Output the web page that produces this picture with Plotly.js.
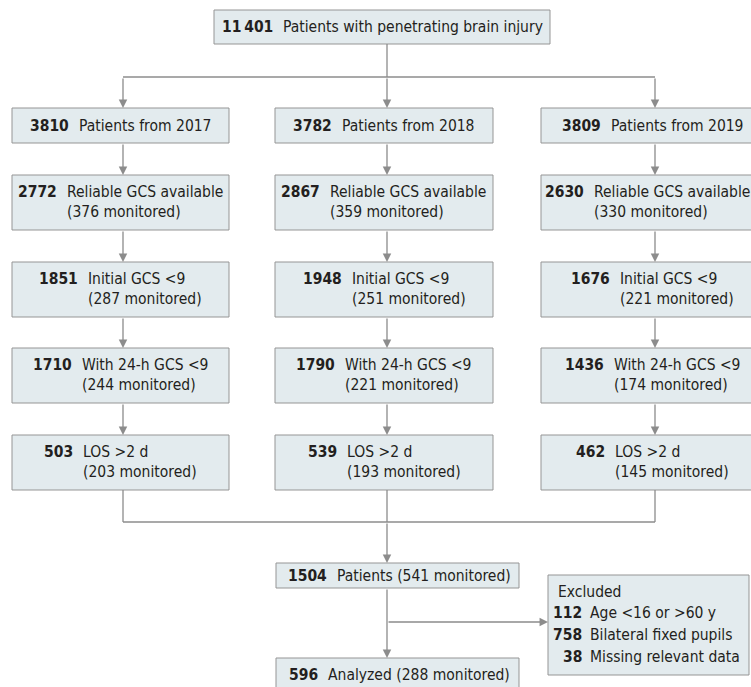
<!DOCTYPE html>
<html><head><meta charset="utf-8">
<script src="https://cdn.plot.ly/plotly-3.0.1.min.js"></script>
<style>html,body{margin:0;padding:0;background:#fff}#chart{width:751px;height:687px}</style>
</head><body><div id="chart"></div>
<script>
// ---- data ----
const totalCount = "11\u2009401";
const totalLabel = "Patients with penetrating brain injury";
const years = ["2017", "2018", "2019"];
const yearPatients = [3810, 3782, 3809];
const stepLabels = ["Reliable GCS available", "Initial GCS <9", "With 24-h GCS <9", "LOS >2 d"];
const reliableGCS = [2772, 2867, 2630];
const reliableMon = [376, 359, 330];
const initialGCS = [1851, 1948, 1676];
const initialMon = [287, 251, 221];
const gcs24 = [1710, 1790, 1436];
const gcs24Mon = [244, 221, 174];
const losCount = [503, 539, 462];
const losMon = [203, 193, 145];
const pooledCount = 1504, pooledMon = 541;
const analyzedCount = 596, analyzedMon = 288;
const excludedTitle = "Excluded";
const excludedCounts = [112, 758, 38];
const excludedLabels = ["Age <16 or >60 y", "Bilateral fixed pupils", "Missing relevant data"];

// ---- styling / layout helpers ----
const FONT = "'DejaVu Sans Condensed', 'Liberation Sans Narrow', Roboto, sans-serif";
const FS = 15.5;
const TXT = "#231f20";
const FILL = "#e3ebee";
const BORDER = "#959595";
const LINE = "#8c8c8c";
const GAP = 8;
const MAXRIGHT = 749;

const cv = document.createElement("canvas").getContext("2d");
function tw(s, bold) { cv.font = (bold ? "bold " : "") + FS + "px " + FONT; return cv.measureText(s).width; }
function esc(s) { return String(s).replace(/&/g, "&amp;").replace(/</g, "&lt;").replace(/>/g, "&gt;"); }

const shapes = [], ann = [];
function box(x0, x1, y0, y1) {
  shapes.push({type: "rect", xref: "x", yref: "y", x0, x1, y0, y1, fillcolor: FILL, line: {color: BORDER, width: 1}, layer: "below"});
}
function seg(x0, y0, x1, y1) {
  shapes.push({type: "line", xref: "x", yref: "y", x0, y0, x1, y1, line: {color: LINE, width: 1.3}});
}
function arrow(x0, y0, x1, y1) {
  ann.push({xref: "x", yref: "y", axref: "x", ayref: "y", x: x1, y: y1, ax: x0, ay: y0, text: "", showarrow: true,
    arrowhead: 2, arrowsize: 1.3, arrowwidth: 1.3, arrowcolor: LINE, standoff: 0, startstandoff: 0});
}
function txt(x, y, s, anchor) {
  ann.push({xref: "x", yref: "y", x, y, text: s, showarrow: false, xanchor: anchor, yanchor: "middle",
    font: {family: FONT, size: FS, color: TXT}, borderpad: 0});
}
// number (bold) + label, optional second line, block centred at cx (kept inside the page)
function node(cx, yTop, num, l1, l2) {
  const nw = tw(String(num), true);
  const lw = Math.max(tw(l1, false), l2 ? tw(l2, false) : 0);
  const bw = nw + GAP + lw;
  let left = cx - bw / 2;
  if (left + bw > MAXRIGHT) left = MAXRIGHT - bw;
  const lx = left + nw + GAP;
  if (l2) {
    txt(lx - GAP, yTop + 17, "<b>" + esc(num) + "</b>", "right");
    txt(lx, yTop + 17, esc(l1), "left");
    txt(lx, yTop + 37, esc(l2), "left");
  } else {
    txt(lx - GAP, yTop, "<b>" + esc(num) + "</b>", "right");
    txt(lx, yTop, esc(l1), "left");
  }
}

// ---- geometry ----
const colX = [123, 387, 655];
const colBox = [[12, 229], [275, 493], [541, 764]];
const rowTop = [108, 175, 262, 348, 435];
const rowBot = [143, 230, 317, 403, 490];

// top box
box(214, 550, 10, 44);
node(382, 27, totalCount, totalLabel);
seg(387, 44, 387, 77);
seg(colX[0], 77, colX[2], 77);

const steps = [[reliableGCS, reliableMon], [initialGCS, initialMon], [gcs24, gcs24Mon], [losCount, losMon]];
for (let c = 0; c < 3; c++) {
  const [bx0, bx1] = colBox[c];
  const cx = (bx0 + bx1) / 2;
  arrow(colX[c], 77, colX[c], rowTop[0]);
  box(bx0, bx1, rowTop[0], rowBot[0]);
  node(cx, (rowTop[0] + rowBot[0]) / 2, yearPatients[c], "Patients from " + years[c]);
  for (let r = 0; r < 4; r++) {
    arrow(colX[c], rowBot[r], colX[c], rowTop[r + 1]);
    box(bx0, bx1, rowTop[r + 1], rowBot[r + 1]);
    node(cx, rowTop[r + 1], steps[r][0][c], stepLabels[r], "(" + steps[r][1][c] + " monitored)");
  }
  seg(colX[c], rowBot[4], colX[c], 522);
}
seg(colX[0], 522, colX[2], 522);
arrow(387, 522, 387, 563);

// pooled box
box(276, 519, 563, 588);
node(399, 575.5, pooledCount, "Patients (" + pooledMon + " monitored)");
arrow(387, 588, 387, 658);
arrow(387, 622, 548, 622);

// excluded box
box(548, 749, 575, 675);
txt(557, 592, esc(excludedTitle), "left");
const exY = [613, 635, 657];
for (let i = 0; i < 3; i++) {
  txt(583, exY[i], "<b>" + excludedCounts[i] + "</b>", "right");
  txt(589, exY[i], esc(excludedLabels[i]), "left");
}

// analyzed box
box(276, 519, 658, 700);
node(399, 675, analyzedCount, "Analyzed (" + analyzedMon + " monitored)");

const layout = {
  width: 751, height: 687,
  margin: {l: 0, r: 0, t: 0, b: 0},
  paper_bgcolor: "#ffffff", plot_bgcolor: "#ffffff",
  showlegend: false,
  xaxis: {range: [0, 751], visible: false, fixedrange: true},
  yaxis: {range: [687, 0], visible: false, fixedrange: true},
  shapes, annotations: ann
};
Plotly.newPlot("chart", [{x: [0], y: [0], mode: "markers", marker: {opacity: 0}, hoverinfo: "skip"}], layout, {staticPlot: true});
</script></body></html>
